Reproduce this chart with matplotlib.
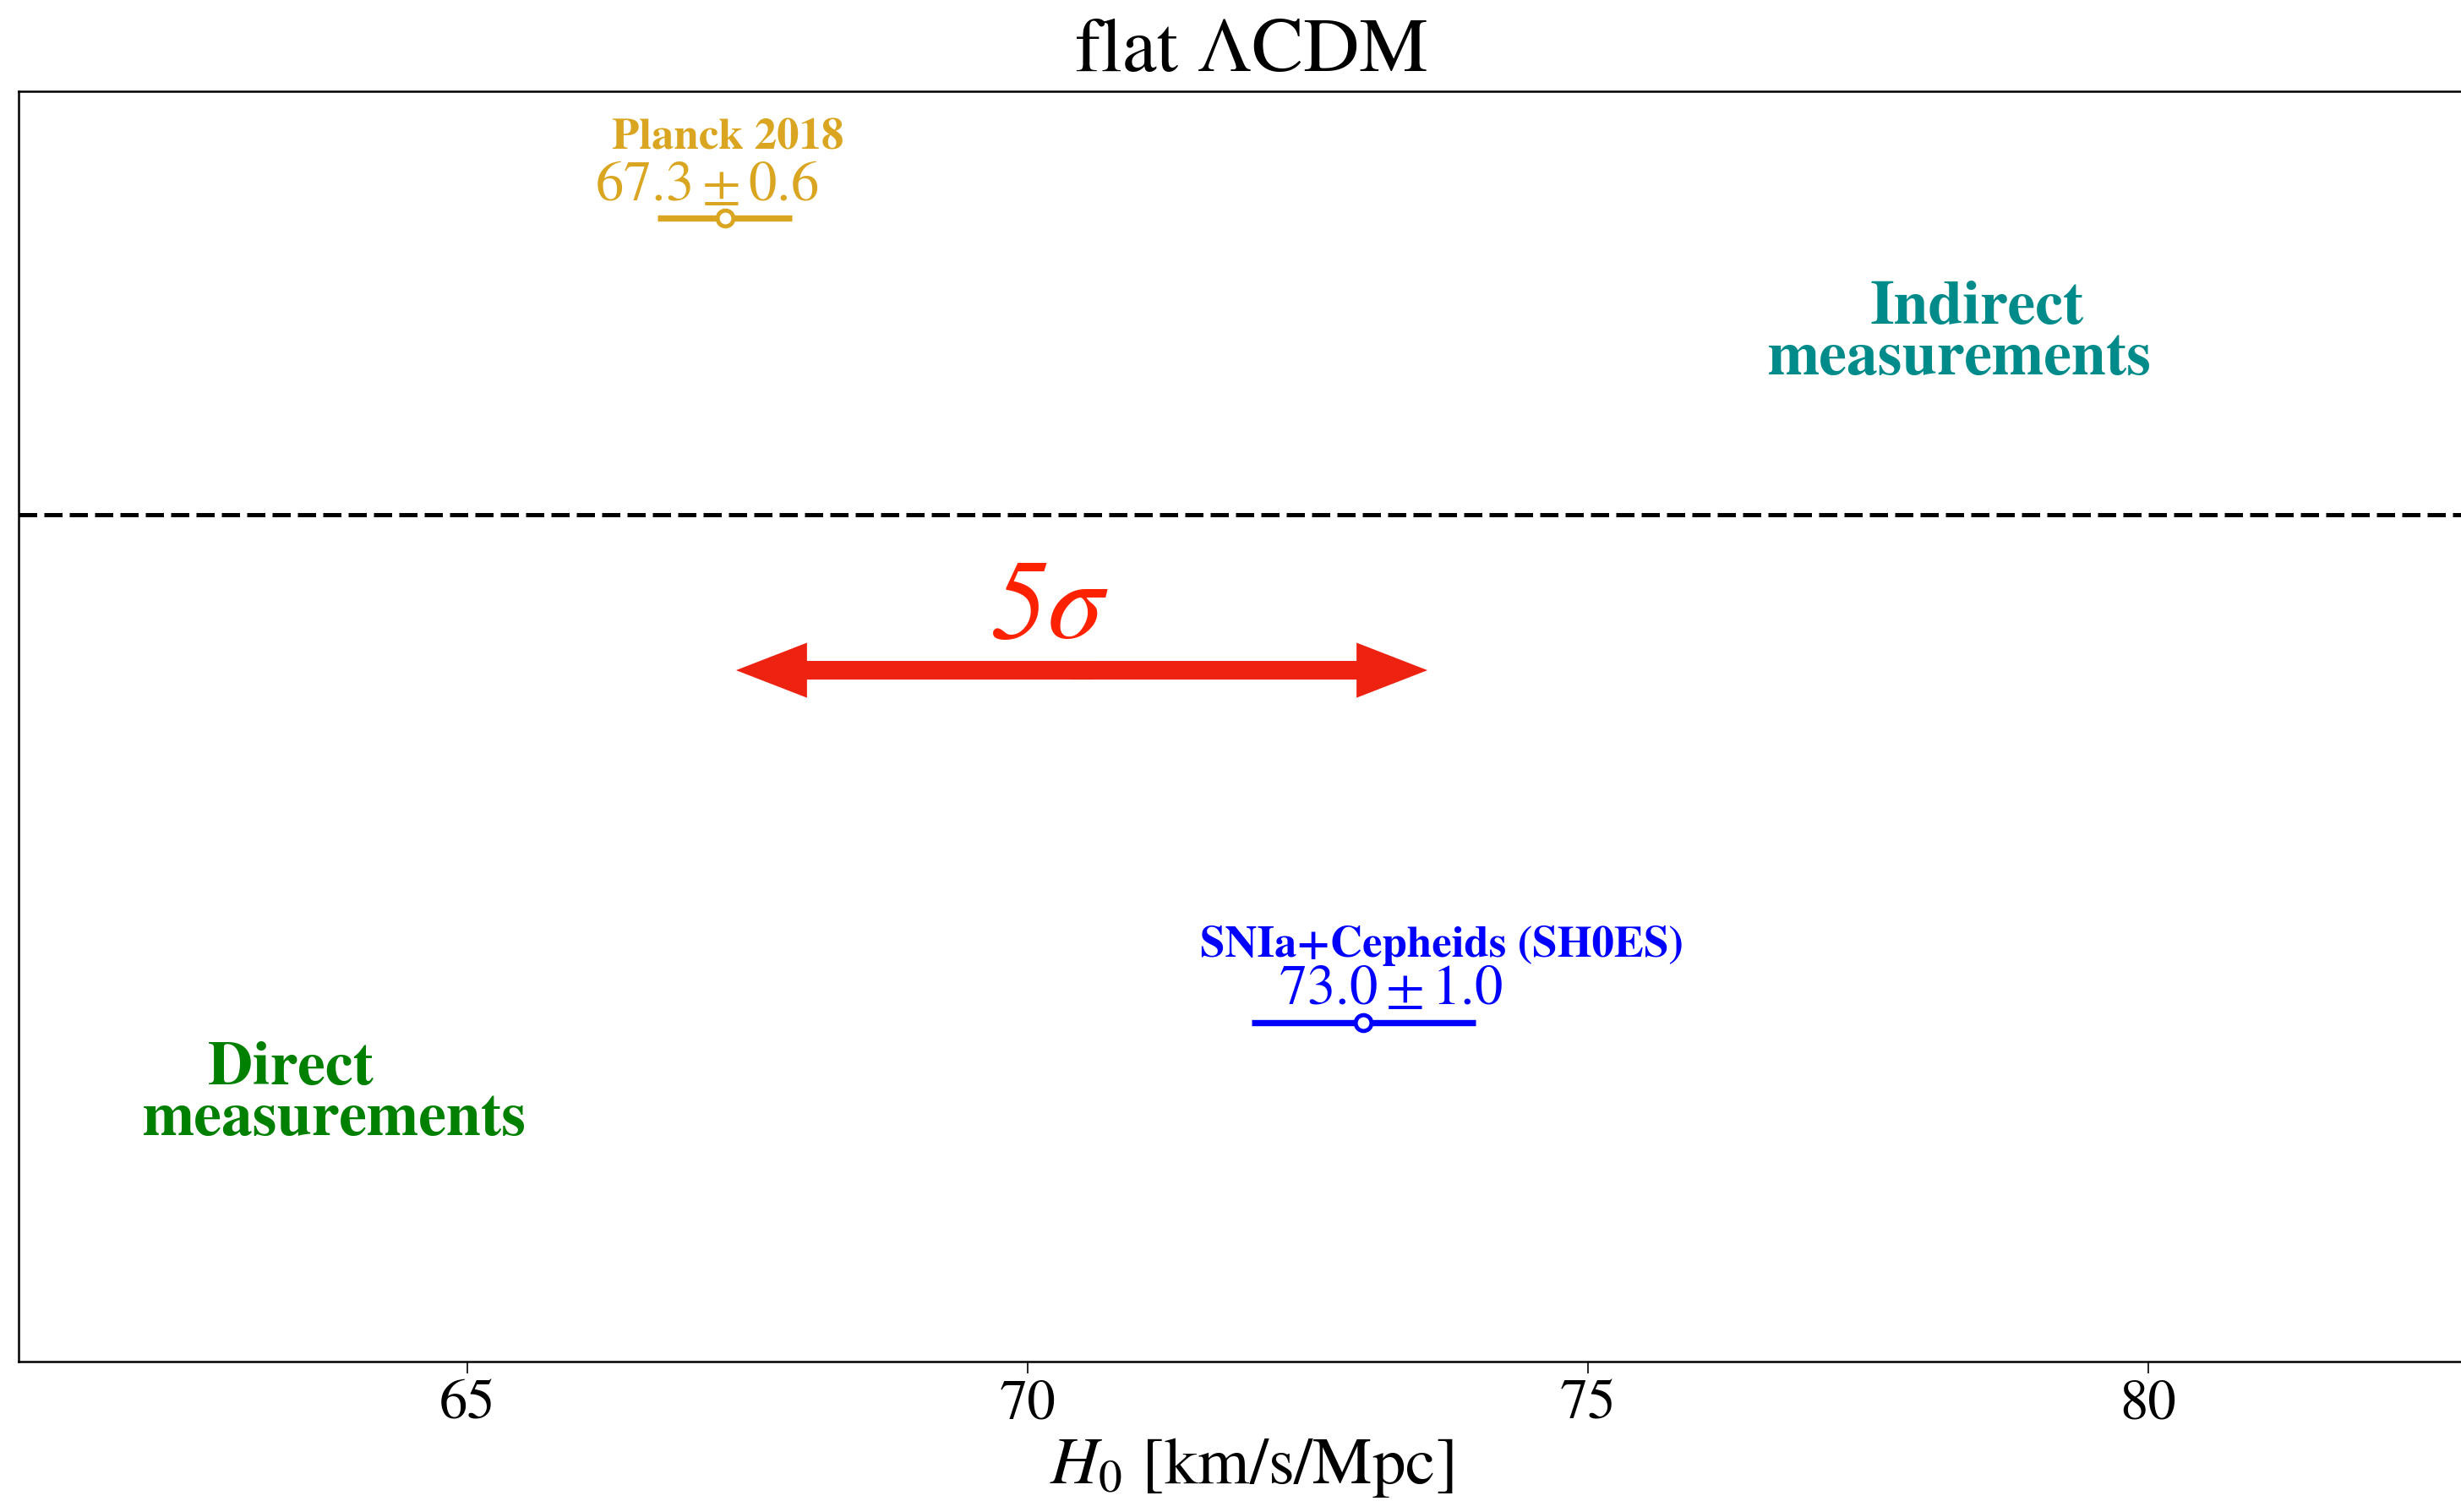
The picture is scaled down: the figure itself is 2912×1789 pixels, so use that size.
import matplotlib
matplotlib.use('Agg')
from matplotlib import pyplot as plt

plt.rcParams['font.family'] = 'STIXGeneral'
plt.rcParams['mathtext.fontset'] = 'stix'

TITLE = 'flat ΛCDM'
XLABEL = r'$H_0$ [km/s/Mpc]'

# measurements
names = ['Planck 2018', 'SNIa+Cepheids (SH0ES)']
h0 = [67.3, 73.0]
h0_err = [0.6, 1.0]
xticks = [65, 70, 75, 80]

# layout / style
ROWS = [2.7, 0.8]
COLORS = ['#DAA520', '#0000FF']
NAME_DX = [0.03, 0.70]
NAME_DY = [0.162, 0.155]
VAL_DX = [-0.16, 0.24]
VAL_DY = [0.042, 0.043]
SPLIT_Y = 2.0
ARROW_X = [67.4, 73.57]
ARROW_Y = 1.632
RED = '#EE2211'
TEAL = '#008B8B'
GREEN = '#008000'

fig = plt.figure(figsize=(29.12, 17.89), dpi=100)
ax = fig.add_axes([0.00765, 0.0997, 1.0018, 0.8401])

for i in range(len(names)):
    c = COLORS[i]
    ax.errorbar(h0[i], ROWS[i], xerr=h0_err[i], fmt='o', color=c,
                mfc='white', mec=c, ms=13.5, mew=3.5, elinewidth=5.3, capsize=0)
    ax.text(h0[i] + NAME_DX[i], ROWS[i] + NAME_DY[i], names[i], color=c,
            fontsize=38, fontweight='bold', ha='center', va='baseline')
    ax.text(h0[i] + VAL_DX[i], ROWS[i] + VAL_DY[i],
            r'$%.1f \pm %.1f$' % (h0[i], h0_err[i]), color=c,
            fontsize=48, ha='center', va='baseline')

ax.axhline(SPLIT_Y, color='k', lw=3.6, linestyle=(0, (4.3, 1.7)))

# double headed arrow = two arrows from the middle
mid = (ARROW_X[0] + ARROW_X[1]) / 2
for tip, start in zip(ARROW_X, [mid + 0.1, mid - 0.1]):
    ax.arrow(start, ARROW_Y, tip - start, 0, width=0.044, head_width=0.13,
             head_length=0.633, length_includes_head=True, color=RED, lw=0)
ax.text(70.18, 1.708, '5σ', style='italic', fontsize=96, color='#FF2200',
        ha='center', va='baseline')

ax.text(78.47, 2.450, 'Indirect', color=TEAL, fontsize=53, fontweight='bold',
        ha='center', va='baseline')
ax.text(78.32, 2.330, 'measurements', color=TEAL, fontsize=53, fontweight='bold',
        ha='center', va='baseline')
ax.text(63.43, 0.654, 'Direct', color=GREEN, fontsize=53, fontweight='bold',
        ha='center', va='baseline')
ax.text(63.82, 0.534, 'measurements', color=GREEN, fontsize=53, fontweight='bold',
        ha='center', va='baseline')

ax.set_xlim(61, 83)
ax.set_ylim(0, 3)
ax.set_xticks(xticks)
ax.set_yticks([])
ax.tick_params(axis='x', labelsize=48, length=10, width=1.2, pad=6)
for s in ax.spines.values():
    s.set_linewidth(1.8)

ax.set_title(TITLE, fontsize=66, pad=17)
ax.set_xlabel(XLABEL, fontsize=57, labelpad=4)

fig.savefig('out.png', dpi=100)
